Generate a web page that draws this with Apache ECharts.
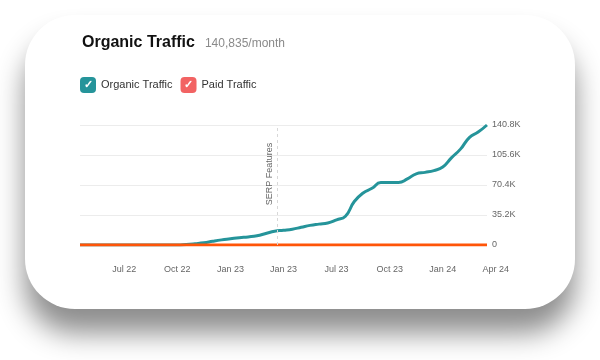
<!DOCTYPE html>
<html>
<head>
<meta charset="utf-8">
<script src="https://cdn.jsdelivr.net/npm/echarts@6/dist/echarts.min.js"></script>
<style>
  html, body { margin: 0; padding: 0; width: 600px; height: 360px; background: #fff; overflow: hidden; }
  #card { position: absolute; left: 25px; top: 15px; width: 550px; height: 294px; background: #fff;
          border-radius: 50px; box-shadow: 0 24px 28px rgba(0,0,0,0.45); }
  #chart { position: absolute; left: 0; top: 0; width: 600px; height: 360px; }
</style>
</head>
<body>
<div id="card"></div>
<div id="chart"></div>
<script>
// Months since Apr 2022 (half-month steps)
const months = [0,0.5,1,1.5,2,2.5,3,3.5,4,4.5,5,5.5,6,6.5,7,7.5,8,8.5,9,9.5,10,10.5,11,11.5,12,12.5,13,13.5,14,14.5,15,15.5,16,16.5,17,17.5,18,18.5,19,19.5,20,20.5,21,21.5,22,22.5,23];
// Organic traffic (thousands)
const organicK = [0,0,0,0,0,0,0,0,0,0,0,0,0.6,1.5,2.6,4.4,6.0,7.3,8.6,9.5,10.8,13.5,16.2,17.3,18.6,20.8,23.0,24.5,25.8,29.5,33.8,51.0,61.0,66.5,73.2,73.3,73.4,77.5,83.5,85.2,87.3,91.5,102.5,112.5,126.0,132.5,140.8];
// Paid traffic (thousands)
const paidK = [0,0,0,0,0,0,0,0,0,0,0,0,0,0,0,0,0,0,0,0,0,0,0,0,0,0,0,0,0,0,0,0,0,0,0,0,0,0,0,0,0,0,0,0,0,0,0];
// X tick labels and their month positions
const xTickLabels = ['Jul 22','Oct 22','Jan 23','Jan 23','Jul 23','Oct 23','Jan 24','Apr 24'];
const xTickMonths = [2.5,5.5,8.5,11.5,14.5,17.5,20.5,23.5];
// Y ticks
const yTickValues = [0,35200,70400,105600,140800];
const yTickLabels = ['0','35.2K','70.4K','105.6K','140.8K'];
// Event marker
const serpMonth = 11.15;
const serpLabel = 'SERP Features';
const titleText = 'Organic Traffic';
const subText = '140,835/month';
const seriesNames = ['Organic Traffic','Paid Traffic'];

const FONT = '"Liberation Sans", Arial, Helvetica, sans-serif';
const TEAL = '#25949a';
const ORANGE = '#ff5508';
const RED = '#f26363';

const chart = echarts.init(document.getElementById('chart'), null, {renderer: 'canvas'});
chart.setOption({
  animation: false,
  textStyle: { fontFamily: FONT },
  title: {
    left: 82, top: 35, padding: 0,
    text: '{a|' + titleText + '}{b|' + subText + '}',
    textStyle: {
      fontWeight: 'normal',
      rich: {
        a: { fontSize: 16, fontWeight: 'bold', color: '#111', fontFamily: FONT },
        b: { fontSize: 12, fontWeight: 'normal', color: '#8a8a8a', fontFamily: FONT, padding: [2, 0, 0, 10] }
      }
    }
  },
  legend: {
    left: 74, top: 77, padding: 0,
    itemWidth: 0, itemHeight: 0, itemGap: 2,
    data: seriesNames,
    formatter: function (name) {
      return (name === seriesNames[0] ? '{o|✓}' : '{p|✓}') + '{t|' + name + '}';
    },
    textStyle: {
      rich: {
        o: { width: 16, height: 16, lineHeight: 16, align: 'center', backgroundColor: TEAL, borderRadius: 4, color: '#fff', fontSize: 11, fontWeight: 'bold' },
        p: { width: 16, height: 16, lineHeight: 16, align: 'center', backgroundColor: RED, borderRadius: 4, color: '#fff', fontSize: 11, fontWeight: 'bold' },
        t: { fontSize: 11, color: '#333', padding: [0, 0, 0, 5], fontFamily: FONT }
      }
    }
  },
  grid: [
    { left: 80, right: 113, top: 125, bottom: 115 },
    { left: 80, right: 95.3, top: 125, bottom: 115 }
  ],
  xAxis: [
    { type: 'value', gridIndex: 0, min: 0, max: 23, show: false, splitLine: { show: false } },
    { type: 'value', gridIndex: 1, min: 0, max: 24,
      axisLine: { show: false }, axisTick: { show: false }, splitLine: { show: false },
      axisLabel: {
        customValues: xTickMonths,
        margin: 20, fontSize: 9, color: '#666', fontFamily: FONT,
        formatter: function (v) {
          const i = xTickMonths.indexOf(v);
          return i >= 0 ? xTickLabels[i] : '';
        }
      }
    }
  ],
  yAxis: [
    { type: 'value', gridIndex: 0, position: 'right', min: 0, max: 140800, interval: 35200,
      axisLine: { show: false }, axisTick: { show: false },
      splitLine: { lineStyle: { color: '#ececec', width: 1 } },
      axisLabel: { margin: 5, fontSize: 9, color: '#666', fontFamily: FONT,
        formatter: function (v) { const i = yTickValues.indexOf(v); return i >= 0 ? yTickLabels[i] : ''; } }
    },
    { type: 'value', gridIndex: 1, min: 0, max: 140800, show: false, splitLine: { show: false } }
  ],
  series: [
    {
      name: seriesNames[0], type: 'line', xAxisIndex: 0, yAxisIndex: 0,
      data: months.map((m, i) => [m, organicK[i] * 1000]),
      smooth: 0.5, showSymbol: false, symbol: 'none',
      lineStyle: { color: TEAL, width: 3 }, itemStyle: { color: TEAL },
      markLine: {
        silent: true, symbol: 'none',
        lineStyle: { color: '#d8d8d8', type: [3, 3], width: 1 },
        label: { show: true, formatter: serpLabel, position: 'insideMiddleTop', color: '#666', fontSize: 9, fontFamily: FONT, distance: 3, padding: [0, 0, 0, 22] },
        data: [{ xAxis: serpMonth }]
      }
    },
    {
      name: seriesNames[1], type: 'line', xAxisIndex: 0, yAxisIndex: 0,
      data: months.map((m, i) => [m, paidK[i] * 1000]),
      showSymbol: false, symbol: 'none',
      lineStyle: { color: ORANGE, width: 3 }, itemStyle: { color: RED }
    }
  ]
});
</script>
</body>
</html>
